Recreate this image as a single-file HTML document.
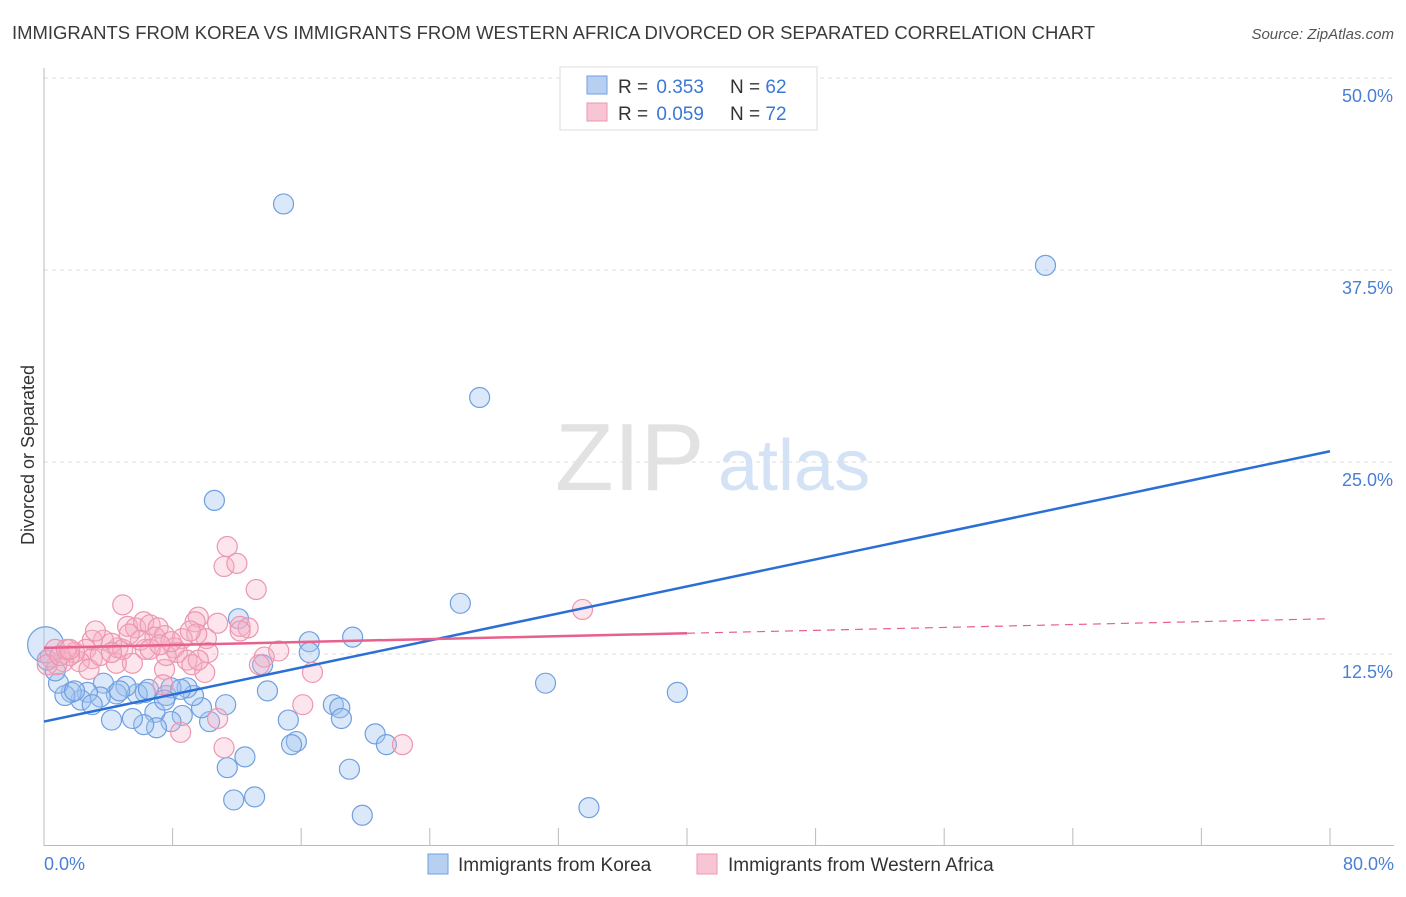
<!DOCTYPE html>
<html><head><meta charset="utf-8"><style>
body{margin:0;background:#fff;font-family:"Liberation Sans",sans-serif}
svg text{font-family:"Liberation Sans",sans-serif}
</style></head><body>
<svg id="chart" width="1406" height="892" xmlns="http://www.w3.org/2000/svg">
<text x="12" y="39" font-size="18" fill="#3a3a3a" textLength="1083" lengthAdjust="spacingAndGlyphs">IMMIGRANTS FROM KOREA VS IMMIGRANTS FROM WESTERN AFRICA DIVORCED OR SEPARATED CORRELATION CHART</text>
<text x="1394" y="39" font-size="15" fill="#555" text-anchor="end" font-style="italic">Source: ZipAtlas.com</text>
<g id="grid"></g>
<g>
<text x="555" y="490" font-size="96" fill="#e2e2e2" font-family="Liberation Serif">ZIP</text>
<text x="718" y="490" font-size="72" fill="#d4e2f5">atlas</text>
</g>
<line x1="44" y1="68" x2="44" y2="846" stroke="#bbb"/>
<line x1="44" y1="845.5" x2="1394" y2="845.5" stroke="#bbb"/>
<text transform="translate(34,455) rotate(-90)" font-size="18" fill="#333" text-anchor="middle">Divorced or Separated</text>
<text x="44" y="870" font-size="18" fill="#4a7fd4">0.0%</text>
<text x="1394" y="870" font-size="18" fill="#4a7fd4" text-anchor="end">80.0%</text>
<g id="points"></g>
<g id="lines"></g>
<g>
<rect x="560" y="67" width="257" height="63" fill="#fff" stroke="#ddd"/>
<rect x="587" y="76" width="20" height="18" fill="#b7d0f2" stroke="#6f9fe0"/>
<rect x="587" y="103" width="20" height="18" fill="#f7c5d4" stroke="#ec96b0"/>
<text x="618" y="93" font-size="19" fill="#333">R = <tspan dx="3" fill="#3a78d8">0.353</tspan></text>
<text x="730" y="93" font-size="19" fill="#333">N = <tspan fill="#3a78d8">62</tspan></text>
<text x="618" y="120" font-size="19" fill="#333">R = <tspan dx="3" fill="#3a78d8">0.059</tspan></text>
<text x="730" y="120" font-size="19" fill="#333">N = <tspan fill="#3a78d8">72</tspan></text>
</g>
<g>
<rect x="428" y="854" width="20" height="20" fill="#b7d0f2" stroke="#6f9fe0"/>
<text x="458" y="871" font-size="19" fill="#333">Immigrants from Korea</text>
</g>
<g>
<rect x="697" y="854" width="20" height="20" fill="#f7c5d4" stroke="#ec96b0"/>
<text x="728" y="871" font-size="19" fill="#333">Immigrants from Western Africa</text>
</g>
</svg>
<script>
const yTicks=[12.5,25.0,37.5,50.0];
const xTicks=[0,8,16,24,32,40,48,56,64,72,80];
const koreaX=[14.9,62.3,27.1,10.6,25.9,31.2,39.4,33.9,19.8,12.1,16.5,16.5,19.2,13.6,13.9,18.0,18.4,18.5,15.2,20.6,21.3,15.7,15.4,19.0,12.5,11.4,11.8,13.1,11.3,10.3,9.8,9.3,8.9,8.6,7.9,7.6,7.9,6.9,7.0,6.2,5.5,6.3,5.8,5.1,4.5,4.2,3.7,3.5,2.7,2.3,1.7,1.3,0.9,0.7,3.0,1.9,0.2,4.7,6.5,8.5,7.5,0.1];
const koreaY=[41.8,37.8,29.2,22.5,15.8,10.6,10.0,2.5,2.0,14.8,13.3,12.6,13.6,11.8,10.1,9.2,9.0,8.3,8.2,7.3,6.6,6.8,6.6,5.0,5.8,5.1,3.0,3.2,9.2,8.1,9.0,9.8,10.3,8.5,8.1,9.8,10.3,8.7,7.7,7.9,8.3,10.0,9.9,10.4,9.9,8.2,10.6,9.7,10.0,9.5,10.0,9.8,10.6,11.4,9.2,10.1,12.1,10.1,10.2,10.2,9.5,13.1];
const africaX=[11.4,11.2,12.0,13.2,4.9,33.5,9.6,9.4,10.8,12.2,12.7,10.1,9.5,5.2,5.7,6.2,6.6,7.1,6.9,7.5,8.6,8.1,8.3,8.9,9.2,10.0,7.5,7.4,5.5,4.5,4.6,4.2,3.7,3.0,2.6,3.0,2.2,1.9,1.6,1.2,0.8,0.4,0.7,0.2,2.8,3.5,6.3,14.6,13.7,16.7,16.1,10.8,8.5,11.2,22.3,7.6,4.9,9.1,6.0,1.0,1.4,5.3,4.2,7.9,10.2,13.4,6.6,3.2,1.6,7.2,9.6,12.2];
const africaY=[19.5,18.2,18.4,16.7,15.7,15.4,14.9,14.6,14.5,14.3,14.2,13.5,13.8,14.3,14.2,14.6,14.4,14.2,13.6,13.7,13.5,12.9,12.6,12.1,11.8,11.3,11.5,10.5,11.9,11.9,12.9,13.2,13.4,13.4,12.8,12.2,12.0,12.6,12.4,12.0,11.8,12.3,12.8,11.8,11.5,12.4,12.8,12.7,12.3,11.3,9.2,8.3,7.4,6.4,6.6,12.4,12.8,14.0,13.4,12.4,12.8,13.8,12.6,13.3,12.6,11.8,12.8,14.0,12.8,13.1,12.1,14.0];
const koreaTrend=[8.1,25.7];
const africaTrend=[12.9,14.8];
const africaSolidEnd=40;
const NS='http://www.w3.org/2000/svg';
const sx=v=>44+v/80*1286, sy=v=>846-v/50*768;
function mk(t,a,p){const e=document.createElementNS(NS,t);for(const k in a)e.setAttribute(k,a[k]);p.appendChild(e);return e;}
const grid=document.getElementById('grid');
yTicks.forEach(t=>{
 const l=mk('line',{x1:44,x2:1394,y1:sy(t),y2:sy(t),stroke:'#ddd','stroke-dasharray':'4 4'},grid);
 
 
 const tx=mk('text',{x:1393,y:sy(t)+24,'font-size':18,fill:'#4a7fd4','text-anchor':'end'},grid);
 tx.textContent=t.toFixed(1)+'%';
 
 
});
xTicks.forEach(t=>{
 const l=mk('line',{x1:sx(t),x2:sx(t),y1:828,y2:846,stroke:'#bbb'},grid);
 
 
});
const pts=document.getElementById('points');
koreaX.forEach((x,i)=>{
 const c=mk('circle',{cx:sx(x),cy:sy(koreaY[i]),r:i===koreaX.length-1?18:10,fill:'rgba(160,195,240,0.38)',stroke:'#6f9fe0','stroke-width':1.2},pts);
 
 
});
africaX.forEach((x,i)=>{
 const c=mk('circle',{cx:sx(x),cy:sy(africaY[i]),r:10,fill:'rgba(245,175,198,0.33)',stroke:'#ec96b0','stroke-width':1.2},pts);
 
 
});
const ln=document.getElementById('lines');
const kl=mk('line',{x1:sx(0),y1:sy(koreaTrend[0]),x2:sx(80),y2:sy(koreaTrend[1]),stroke:'#2a6fd6','stroke-width':2.5},ln);


const am=africaTrend[0]+(africaTrend[1]-africaTrend[0])*africaSolidEnd/80;
const al=mk('line',{x1:sx(0),y1:sy(africaTrend[0]),x2:sx(africaSolidEnd),y2:sy(am),stroke:'#e8608c','stroke-width':2.5},ln);


const ad=mk('line',{x1:sx(africaSolidEnd),y1:sy(am),x2:sx(80),y2:sy(africaTrend[1]),stroke:'#e8608c','stroke-width':1.2,'stroke-dasharray':'8 6'},ln);


</script>
</body></html>
